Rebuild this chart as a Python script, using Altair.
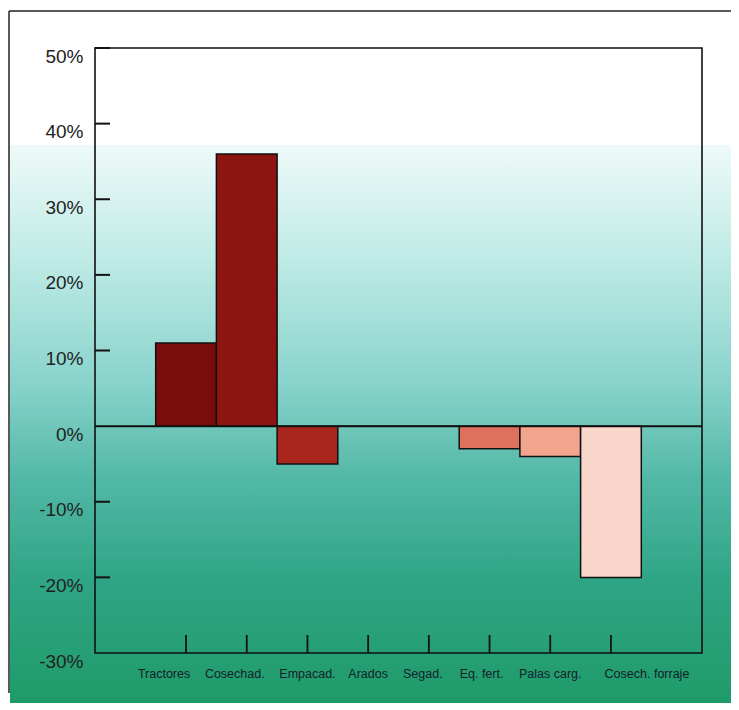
import altair as alt
import pandas as pd

categories = ["Tractores", "Cosechad.", "Empacad.", "Arados", "Segad.",
              "Eq. fert.", "Palas carg.", "Cosech. forraje"]
values = [11, 36, -5, 0, 0, -3, -4, -20]
bar_colors = ["#7a0c0c", "#8c1512", "#a8261e", "#b03a30", "#c04a3e",
              "#e0705e", "#f2a48c", "#f8d6ca"]
y_tick_values = [-30, -20, -10, 0, 10, 20, 30, 40, 50]
inner_ticks = [-20, -10, 10, 20, 30, 40, 50]

W, H = 607, 605

df = pd.DataFrame({"cat": categories, "val": values})

xscale = alt.Scale(domain=categories, paddingInner=0, paddingOuter=1)
yscale = alt.Scale(domain=[-30, 50], nice=False)

gradient = alt.Gradient(
    gradient="linear",
    x1=0, x2=0, y1=0, y2=1,
    stops=[
        alt.GradientStop(color="#eefaf9", offset=0.0),
        alt.GradientStop(color="#c0ebe6", offset=0.2),
        alt.GradientStop(color="#8ad4cc", offset=0.42),
        alt.GradientStop(color="#52b8a6", offset=0.6),
        alt.GradientStop(color="#2fa585", offset=0.78),
        alt.GradientStop(color="#1f9b69", offset=1.0),
    ],
)

bg = alt.Chart(pd.DataFrame({"a": [0]})).mark_rect(fill=gradient).encode(
    x=alt.value(-85), x2=alt.value(W + 30), y=alt.value(97), y2=alt.value(H + 50)
)

label_shift = alt.ExprRef(
    expr="datum.value === 'Cosech. forraje' ? 36 : "
         "(datum.value === 'Tractores' ? -22 : "
         "(datum.value === 'Cosechad.' ? -12 : "
         "(datum.value === 'Segad.' ? -6 : "
         "(datum.value === 'Eq. fert.' ? -8 : 0))))"
)

bars = alt.Chart(df).mark_bar(stroke="#111111", strokeWidth=1.5).encode(
    x=alt.X("cat:N", sort=categories, scale=xscale,
            axis=alt.Axis(title="", labelAngle=0, ticks=False, domain=False,
                          labelPadding=14, labelFontSize=12.5,
                          labelFont="Liberation Sans",
                          labelColor="#12202c", labelOffset=label_shift,
                          zindex=2)),
    y=alt.Y("val:Q", scale=yscale,
            axis=alt.Axis(title="", values=y_tick_values, ticks=False,
                          domain=False, grid=False, labelPadding=12,
                          labelFontSize=19, labelFont="Liberation Sans",
                          labelColor="#222222", labelOffset=8,
                          labelExpr="datum.value + '%'", zindex=2)),
    color=alt.Color("cat:N", scale=alt.Scale(domain=categories, range=bar_colors),
                    legend=None),
)

zero = alt.Chart(pd.DataFrame({"z": [0]})).mark_rule(
    color="#111111", strokeWidth=2).encode(y=alt.Y("z:Q", scale=yscale))

yticks = alt.Chart(pd.DataFrame({"t": inner_ticks})).mark_rule(
    color="#111111", strokeWidth=2).encode(
    y=alt.Y("t:Q", scale=yscale), x=alt.value(0), x2=alt.value(15))

xticks = alt.Chart(pd.DataFrame({"cat": categories})).mark_rule(
    color="#111111", strokeWidth=1.8).encode(
    x=alt.X("cat:N", sort=categories, scale=xscale),
    y=alt.value(H), y2=alt.value(H - 18))

frame = alt.Chart(pd.DataFrame({"a": [0]})).mark_rect(
    fillOpacity=0, stroke="#111111", strokeWidth=1.6).encode(
    x=alt.value(0), x2=alt.value(W), y=alt.value(0), y2=alt.value(H))

outer_left = alt.Chart(pd.DataFrame({"a": [0]})).mark_rule(
    color="#222222", strokeWidth=1.5).encode(
    x=alt.value(-86), y=alt.value(-37), y2=alt.value(H + 40))

outer_top = alt.Chart(pd.DataFrame({"a": [0]})).mark_rule(
    color="#222222", strokeWidth=1.5).encode(
    x=alt.value(-86), x2=alt.value(W + 40), y=alt.value(-37))

chart = alt.layer(bg, bars, zero, yticks, xticks, frame, outer_left, outer_top).properties(
    width=W, height=H,
    autosize=alt.AutoSizeParams(type="none"),
    padding={"left": 87, "top": 40, "right": 29, "bottom": 50},
    background="white",
).configure_view(stroke="transparent")

chart.save("out.html", embed_options={"renderer": "svg", "actions": False})
